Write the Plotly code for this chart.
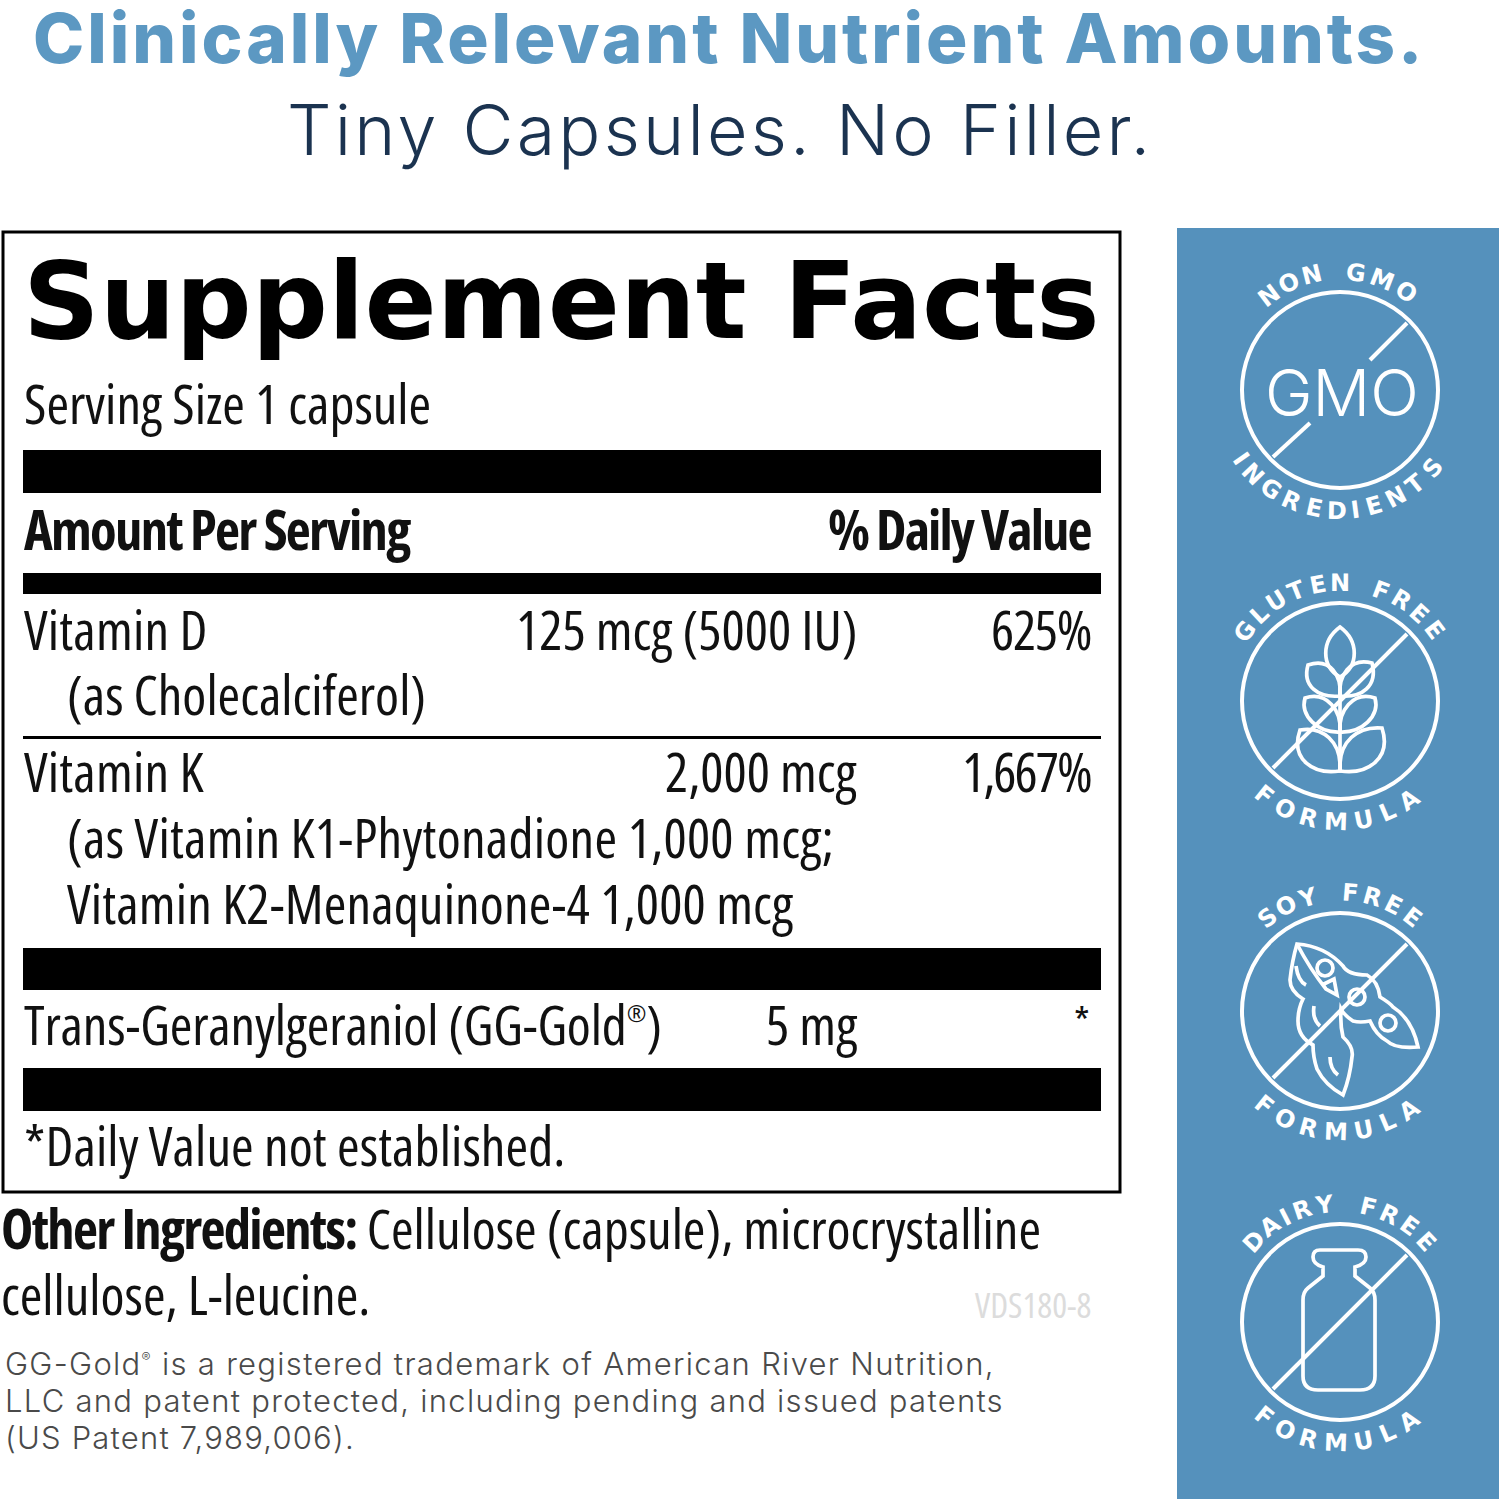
import math
import re
import plotly.graph_objects as go

# page text
TITLE = "Clinically Relevant Nutrient Amounts."
SUBTITLE = "Tiny Capsules. No Filler."
PANEL_TITLE = "Supplement Facts"
SERVING = "Serving Size 1 capsule"
HEAD_LEFT = "Amount Per Serving"
HEAD_RIGHT = "% Daily Value"
REG = '<sup><span style="font-size:62%">®</span></sup>'

NUTRIENTS = ["Vitamin D", "Vitamin K", "Trans-Geranylgeraniol (GG-Gold" + REG + ")"]
AMOUNTS = ["125 mcg (5000 IU)", "2,000 mcg", "5 mg"]
DAILY = ["625%", "1,667%", "*"]
SOURCES = ["(as Cholecalciferol)", "(as Vitamin K1-Phytonadione 1,000 mcg;", "Vitamin K2-Menaquinone-4 1,000 mcg"]
FOOTNOTE = "*Daily Value not established."
OTHER_LABEL = "Other Ingredients:"
OTHER = ["Cellulose (capsule), microcrystalline", "cellulose, L-leucine."]
CODE = "VDS180-8"
LEGAL = ["GG-Gold" + REG + " is a registered trademark of American River Nutrition,",
         "LLC and patent protected, including pending and issued patents",
         "(US Patent 7,989,006)."]

BADGE_TOP = ["NON GMO", "GLUTEN FREE", "SOY FREE", "DAIRY FREE"]
BADGE_BOTTOM = ["INGREDIENTS", "FORMULA", "FORMULA", "FORMULA"]

BLUE = "#5591bc"
NAVY = "#1b3350"
BLACK = "#000000"
INK = "#111111"
NARROW = "Open Sans"
WIDE = "Inter"

fig = go.Figure()


def txt(x, y, text, size, color=INK, family=WIDE, anchor="left", weight=400, spacing=0, angle=0, style=""):
    if spacing:
        style += "letter-spacing:%.2fpx;" % spacing
    if style:
        text = '<span style="%s">%s</span>' % (style, text)
    fig.add_annotation(x=x, y=y, text=text, showarrow=False, xanchor=anchor, yanchor="middle", textangle=angle,
                       borderpad=0, font=dict(size=size, color=color, family=family, weight=weight))


def cond(x, y, text, anchor="left", size=54.6, color=INK, spacing=0):
    # the label face is a condensed sans, Open Sans squeezed to 75% is close
    txt(x, y, text, size, color, NARROW, anchor, style="font-stretch:75%;", spacing=spacing)


def bar(x0, y0, x1, y1, color=BLACK):
    fig.add_shape(type="rect", x0=x0, y0=y0, x1=x1, y1=y1, fillcolor=color, line_width=0)


def shifted(path, cx, cy):
    # icon paths are written around the badge centre
    nums = iter(range(100000))
    return re.sub(r"-?\d+\.?\d*", lambda m: str(float(m.group()) + (cy if next(nums) % 2 else cx)), path)


def icon(paths, cx, cy, width=3.7):
    for p in paths:
        fig.add_shape(type="path", path=shifted(p, cx, cy), line=dict(color="white", width=width))


def ring(cx, cy, r, width=3.7):
    fig.add_shape(type="circle", x0=cx - r, y0=cy - r, x1=cx + r, y1=cy + r, line=dict(color="white", width=width))


def arc_text(word, cx, cy, radius, start, end, bottom=False):
    weights = [{"I": 0.55, " ": 0.9, "M": 1.25}.get(c, 1.0) for c in word]
    total = sum(weights) - (weights[0] + weights[-1]) / 2
    pos = -weights[0] / 2
    for c, w in zip(word, weights):
        mid = pos + w / 2
        pos += w
        if c == " ":
            continue
        a = start + (end - start) * mid / total
        r = math.radians(a)
        if bottom:
            x, y, rot = cx + radius * math.sin(r), cy + radius * math.cos(r), -a
        else:
            x, y, rot = cx + radius * math.sin(r), cy - radius * math.cos(r), a
        txt(x, y, c, 24, "white", "DejaVu Sans", "center", 700, angle=rot)


# page headline
txt(729, 38, TITLE, 69, "#5c98c2", WIDE, "center", 800, spacing=2.95)
txt(720, 129, SUBTITLE, 70, NAVY, WIDE, "center", 300, spacing=3.2)

# facts box
fig.add_shape(type="rect", x0=3, y0=232, x1=1120, y1=1192, line=dict(color=BLACK, width=3), fillcolor="white")
for y0, y1 in [(450, 493), (573, 594), (948, 990), (1068, 1111)]:
    bar(23, y0, 1101, y1)
bar(23, 736, 1101, 739)

txt(561, 301, PANEL_TITLE, 106.5, BLACK, "DejaVu Sans", "center", 700)
cond(23, 403, SERVING)
cond(23, 529, "<b>%s</b>" % HEAD_LEFT, spacing=-1.7)
cond(1092, 529, "<b>%s</b>" % HEAD_RIGHT, "right", spacing=-1.9)

row_y = [629, 771, 1024]
row_gap = [0.2, 0.2, -0.15]
for name, amount, y, gap in zip(NUTRIENTS, AMOUNTS, row_y, row_gap):
    cond(23, y, name, spacing=gap)
    cond(858, y, amount, "right")
cond(1092, 629, DAILY[0], "right", spacing=-1.3)
cond(1092, 771, DAILY[1], "right", spacing=-2)
cond(1091, 1021, DAILY[2], "right", 40)

cond(66, 694, SOURCES[0])
cond(66, 837, SOURCES[1], spacing=0.25)
cond(66, 903, SOURCES[2], spacing=0.15)
cond(23, 1145, FOOTNOTE, spacing=0.1)

cond(0, 1228, '<span style="letter-spacing:-1.7px"><b>%s</b></span> %s' % (OTHER_LABEL, OTHER[0]))
cond(0, 1294, OTHER[1])
cond(1093, 1304, CODE, "right", 35, "#dcdcdc")
for line, y, gap in zip(LEGAL, [1363, 1400, 1437], [1.3, 1.27, 1.2]):
    txt(4, y, line, 31, "#4a4a4a", WIDE, weight=300, spacing=gap)

# badge column
bar(1177, 228, 1499, 1499, BLUE)
centers = [(1340, 390), (1340, 701), (1340, 1011), (1340, 1322)]
top_arc = [(-37, 34), (-54, 53), (-38, 37.5), (-47, 47)]
bottom_arc = [(-55, 50), (-39, 35), (-39, 35), (-39, 35)]

wheat = ["M 0 -74 C 19 -60 19 -35 0 -24 C -19 -35 -19 -60 0 -74 Z",
         "M -32 -36 C -10 -44 2 -25 0 -5 C -22 -3 -38 -15 -32 -36 Z",
         "M 32 -38 C 10 -44 -2 -25 0 -5 C 22 -3 38 -15 32 -38 Z",
         "M -35 -3 C -13 -10 2 10 0 31 C -22 32 -40 15 -35 -3 Z",
         "M 35 -3 C 13 -10 -2 10 0 31 C 22 32 40 15 35 -3 Z",
         "M -40 29 C -18 25 2 40 0 70 C -27 74 -50 58 -40 29 Z",
         "M 42 27 C 18 25 -2 40 0 70 C 27 74 52 58 42 27 Z",
         "M 0 -24 L 0 70"]
soy = ["M -43 -67 Q -15 -65 3 -45 Q 8 -36 27 -36 Q 38 -30 40 -14 Q 50 -8 53 -4 Q 72 8 78 36 Q 55 38 47 30 "
       "Q 36 24 30 10 Q 20 12 13 10 Q 4 4 1 -2 Q 0 14 3 26 Q 14 36 12 46 Q 10 66 3 84 Q -15 74 -23 58 "
       "Q -27 46 -27 34 Q -42 26 -42 10 Q -42 -2 -37 -12 Q -50 -20 -50 -31 Q -48 -50 -43 -67 Z",
       "M -43 -67 Q -30 -42 -14 -22 L -3 -16 L -6 -32 L -18 -26",
       "M -44 -45 Q -42 -30 -34 -26",
       "M -26 -5 Q -28 8 -20 15",
       "M -10 46 Q -10 58 -2 64"]
soy_beans = [(-15, -43), (17, -14), (48, 12)]
bottle = ["M -20 -72 L 18 -72 Q 26 -72 26 -65 Q 26 -58 15 -55 L 15 -46 L 30 -34 Q 35 -30 35 -22 L 35 54 "
          "Q 35 68 20 68 L -22 68 Q -37 68 -37 54 L -37 -22 Q -37 -30 -32 -34 L -17 -46 L -17 -55 "
          "Q -27 -58 -27 -65 Q -27 -72 -20 -72 Z"]
icons = [[], wheat, soy, bottle]

for i, (cx, cy) in enumerate(centers):
    ring(cx, cy, 98, 4)
    icon(icons[i], cx, cy)
    if i == 0:
        icon(["M 67 -67 L 30 -30", "M -30 33 L -67 67"], cx, cy, 4)
        txt(cx + 2, cy + 2, "GMO", 64, "white", WIDE, "center", 300)
    else:
        icon(["M 67 -67 L -67 67"], cx, cy, 4)
    if i == 2:
        for dx, dy in soy_beans:
            ring(cx + dx, cy + dy, 8)
    arc_text(BADGE_TOP[i], cx, cy, 118, *top_arc[i])
    arc_text(BADGE_BOTTOM[i], cx, cy, 121, *bottom_arc[i], bottom=True)

fig.update_layout(width=1499, height=1499, margin=dict(l=0, r=0, t=0, b=0), plot_bgcolor="white", paper_bgcolor="white",
                  showlegend=False,
                  xaxis=dict(range=[0, 1499], visible=False, fixedrange=True),
                  yaxis=dict(range=[1499, 0], visible=False, fixedrange=True))

fig.write_html("out.html", config={"displayModeBar": False}, post_script="document.body.style.margin='0';")
